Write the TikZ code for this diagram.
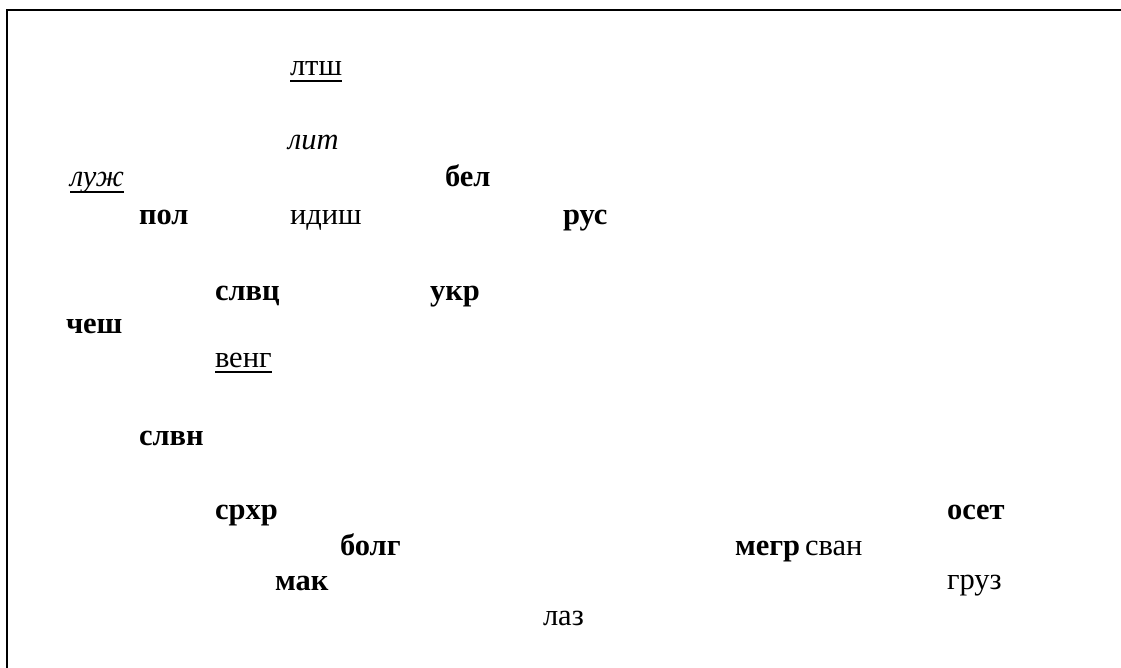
\documentclass[tikz,border=0pt]{standalone}
\usepackage{fontspec}
\setmainfont{Liberation Serif}
\newcommand\ulx[1]{\setbox0\hbox{#1}\rlap{\rule[-6pt]{\wd0}{1.8pt}}\box0}
\begin{document}
\begin{tikzpicture}[x=1pt,y=-1pt,
  lang/.style={anchor=base west,inner sep=0pt,outer sep=0pt,font=\fontsize{30.5}{36}\selectfont},
  bl/.style={lang,font=\fontsize{30.5}{36}\selectfont\bfseries},
  it/.style={lang,font=\fontsize{30.5}{36}\selectfont\itshape}]
\useasboundingbox (0,0) rectangle (1121,668);
\draw[line width=2.6pt] (7,668) -- (7,10) -- (1121,10);
\node[lang] (ltsh) at (290,76) {\ulx{лтш}};
\node[it] (lit) at (288,150) {лит};
\node[it] (luzh) at (70,187) {\ulx{луж}};
\node[bl] (bel) at (445,187) {бел};
\node[bl] (pol) at (139,225) {пол};
\node[lang] (idish) at (290,225) {идиш};
\node[bl] (rus) at (563,225) {рус};
\node[bl] (slvc) at (215,300) {слвц};
\node[bl] (ukr) at (430,300) {укр};
\node[bl] (chesh) at (66,333) {чеш};
\node[lang] (veng) at (215,367) {\ulx{венг}};
\node[bl] (slvn) at (139,445) {слвн};
\node[bl] (srhr) at (215,519) {срхр};
\node[bl] (oset) at (947,519) {осет};
\node[bl] (bolg) at (340,555) {болг};
\node[bl] (megr) at (735,555) {мегр};
\node[lang] (svan) at (805,555) {сван};
\node[bl] (mak) at (275,590) {мак};
\node[lang] (gruz) at (947,589) {груз};
\node[lang] (laz) at (543,625) {лаз};
\end{tikzpicture}
\end{document}
